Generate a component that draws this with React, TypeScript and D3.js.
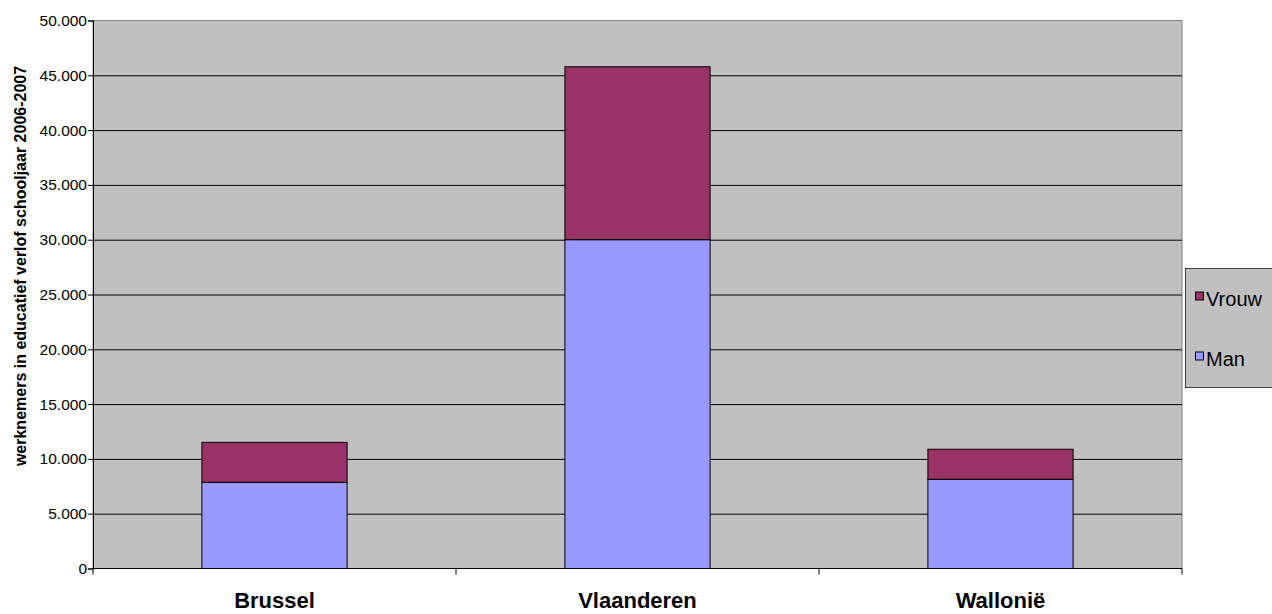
import { useEffect, useRef } from 'react'
import * as d3 from 'd3'

const regions = ['Brussel', 'Vlaanderen', 'Wallonië']
const manValues = [7860, 30000, 8140]
const vrouwValues = [3650, 15780, 2740]
const seriesNames = ['Man', 'Vrouw']
const yTicks = [0, 5000, 10000, 15000, 20000, 25000, 30000, 35000, 40000, 45000, 50000]

const colors: Record<string, string> = { Man: '#9999FF', Vrouw: '#993366' }
const font = "'Liberation Sans', Arial, sans-serif"

const App = () => {
  const svgRef = useRef<SVGSVGElement | null>(null)
  const width = 1272
  const height = 614

  useEffect(() => {
    const margin = { left: 93, right: 90, top: 20.5, bottom: 45.5 }
    const svgEl = d3.select(svgRef.current)
    svgEl.selectAll('*').remove()

    const rows = regions.map((r, i) => ({ region: r, Man: manValues[i], Vrouw: vrouwValues[i] }))
    const stacked = d3.stack<any>().keys(seriesNames)(rows)

    const x = d3
      .scaleBand()
      .domain(regions)
      .range([margin.left, width - margin.right])
      .paddingInner(0.6)
      .paddingOuter(0.3)
    const xCat = d3.scaleBand().domain(regions).range([margin.left, width - margin.right])
    const y = d3.scaleLinear().domain([0, 50000]).range([height - margin.bottom, margin.top])

    const fmt = (v: number) => (v === 0 ? '0' : d3.format(',')(v).replace(/,/g, '.'))

    // plot background
    svgEl
      .append('rect')
      .attr('x', margin.left)
      .attr('y', margin.top)
      .attr('width', width - margin.right - margin.left)
      .attr('height', height - margin.bottom - margin.top)
      .attr('fill', '#C0C0C0')
      .attr('stroke', '#808080')
      .attr('stroke-width', 1)

    // gridlines + y axis
    svgEl
      .append('g')
      .attr('transform', `translate(${margin.left},0)`)
      .call(d3.axisLeft(y).tickValues(yTicks).tickFormat((d: any) => fmt(d)).tickSize(5).tickPadding(1))
      .call((g) => g.select('.domain').attr('stroke', '#000'))
      .call((g) =>
        g
          .selectAll('.tick')
          .filter((d: any) => d !== 0 && d !== 50000)
          .append('line')
          .attr('x1', 0)
          .attr('x2', width - margin.right - margin.left)
          .attr('stroke', '#000')
          .attr('stroke-width', 1)
      )
      .call((g) =>
        g
          .selectAll('.tick text')
          .attr('fill', '#000')
          .style('font-family', font)
          .style('font-size', '15.5px')
      )

    // bars
    stacked.forEach((layer) => {
      svgEl
        .append('g')
        .selectAll('rect')
        .data(layer)
        .join('rect')
        .attr('x', (d: any) => x(d.data.region)!)
        .attr('width', x.bandwidth())
        .attr('y', (d) => y(d[1]))
        .attr('height', (d) => y(d[0]) - y(d[1]))
        .attr('fill', colors[layer.key])
        .attr('stroke', '#000')
        .attr('stroke-width', 1)
    })

    // x axis
    const boundaries = [margin.left, ...regions.map((r) => xCat(r)! + xCat.bandwidth())]
    const xAxisG = svgEl.append('g').attr('transform', `translate(0,${height - margin.bottom})`)
    xAxisG
      .append('line')
      .attr('x1', margin.left)
      .attr('x2', width - margin.right)
      .attr('stroke', '#000')
    xAxisG
      .selectAll('line.tk')
      .data(boundaries)
      .join('line')
      .attr('class', 'tk')
      .attr('x1', (d) => d)
      .attr('x2', (d) => d)
      .attr('y1', 0)
      .attr('y2', 6)
      .attr('stroke', '#000')
    xAxisG
      .selectAll('text')
      .data(regions)
      .join('text')
      .attr('x', (d) => xCat(d)! + xCat.bandwidth() / 2)
      .attr('y', 39)
      .attr('text-anchor', 'middle')
      .style('font-family', font)
      .style('font-weight', 'bold')
      .style('font-size', '22px')
      .text((d) => d)

    // y title
    svgEl
      .append('text')
      .attr('transform', 'translate(26,266) rotate(-90)')
      .attr('text-anchor', 'middle')
      .style('font-family', font)
      .style('font-weight', 'bold')
      .style('font-size', '16px')
      .text('werknemers in educatief verlof schooljaar 2006-2007')

    // legend
    const legend = svgEl.append('g')
    legend
      .append('rect')
      .attr('x', 1185.5)
      .attr('y', 268.5)
      .attr('width', 100)
      .attr('height', 119)
      .attr('fill', '#C0C0C0')
      .attr('stroke', '#404040')
    const legendItems = ['Vrouw', 'Man']
    legendItems.forEach((name, i) => {
      const cy = 296.5 + i * 60
      legend
        .append('rect')
        .attr('x', 1195.5)
        .attr('y', cy - 4.5)
        .attr('width', 8)
        .attr('height', 8)
        .attr('fill', colors[name])
        .attr('stroke', '#000')
      legend
        .append('text')
        .attr('x', 1206)
        .attr('y', cy + 9)
        .style('font-family', font)
        .style('font-size', '20px')
        .text(name)
    })
  }, [])

  return (
    <svg
      ref={svgRef}
      width={width}
      height={height}
      style={{ position: 'absolute', left: 0, top: 0, background: '#fff' }}
    />
  )
}

export default App
